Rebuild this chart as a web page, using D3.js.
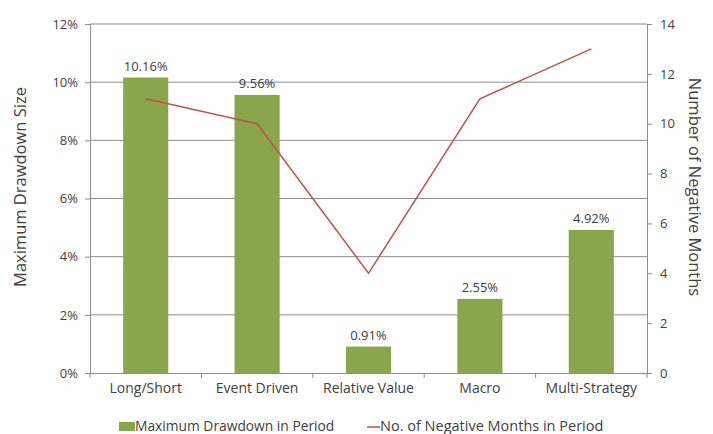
<!DOCTYPE html>
<html>
<head>
<meta charset="utf-8">
<script src="https://cdn.jsdelivr.net/npm/d3@7.9.0/dist/d3.min.js"></script>
<style>
  body { margin: 0; background: #fff; }
  svg text { font-family: "Open Sans", "Lato", sans-serif; fill: #404040; }
</style>
</head>
<body>
<svg id="chart" width="713" height="434"></svg>
<script>
const categories = ['Long/Short', 'Event Driven', 'Relative Value', 'Macro', 'Multi-Strategy'];
const drawdown = [0.1016, 0.0956, 0.0091, 0.0255, 0.0492];
const negMonths = [11, 10, 4, 11, 13];
const leftTicks = [0, 0.02, 0.04, 0.06, 0.08, 0.10, 0.12];
const rightTicks = [0, 2, 4, 6, 8, 10, 12, 14];

const margin = { left: 90, right: 66, top: 24, bottom: 61 };
const width = 713, height = 434;
const svg = d3.select('#chart');

let x = d3.scaleBand().domain(categories).range([margin.left, width - margin.right]).padding(0);
let yL = d3.scaleLinear().domain([0, 0.12]).range([height - margin.bottom, margin.top]);
let yR = d3.scaleLinear().domain([0, 14]).range([height - margin.bottom, margin.top]);

// gridlines
svg.append('g')
  .selectAll('line')
  .data(leftTicks.slice(1))
  .join('line')
  .attr('x1', margin.left).attr('x2', width - margin.right)
  .attr('y1', (d) => yL(d)).attr('y2', (d) => yL(d))
  .attr('stroke', '#8c8c8c').attr('stroke-width', 1);

// left axis
let leftAxis = svg.append('g')
  .attr('transform', `translate(${margin.left},0)`)
  .call(d3.axisLeft(yL).tickValues(leftTicks).tickFormat(d3.format('.0%')).tickSize(5).tickPadding(7));

// right axis
let rightAxis = svg.append('g')
  .attr('transform', `translate(${width - margin.right},0)`)
  .call(d3.axisRight(yR).tickValues(rightTicks).tickSize(5).tickPadding(8));

// x axis
let xAxis = svg.append('g')
  .attr('transform', `translate(0,${height - margin.bottom})`)
  .call(d3.axisBottom(x).tickSize(0).tickPadding(10));

// category boundary ticks
let bounds = categories.map((c) => x(c)).concat([x(categories[4]) + x.bandwidth()]);
svg.append('g')
  .selectAll('line')
  .data(bounds)
  .join('line')
  .attr('x1', (d) => d).attr('x2', (d) => d)
  .attr('y1', height - margin.bottom).attr('y2', height - margin.bottom + 5)
  .attr('stroke', '#8c8c8c');

[leftAxis, rightAxis, xAxis].forEach((g) => {
  g.select('.domain').attr('stroke', '#8c8c8c');
  g.selectAll('.tick line').attr('stroke', '#8c8c8c');
  g.selectAll('text').attr('font-size', 13).attr('fill', '#404040');
});
xAxis.selectAll('text').attr('font-size', 14);

// bars
let barW = x.bandwidth() * 0.405;
svg.append('g')
  .selectAll('rect')
  .data(drawdown)
  .join('rect')
  .attr('x', (d, i) => x(categories[i]) + (x.bandwidth() - barW) / 2)
  .attr('y', (d) => yL(d))
  .attr('width', barW)
  .attr('height', (d) => yL(0) - yL(d))
  .attr('fill', '#8aa64c');

// value labels
svg.append('g')
  .selectAll('text')
  .data(drawdown)
  .join('text')
  .attr('x', (d, i) => x(categories[i]) + x.bandwidth() / 2)
  .attr('y', (d) => yL(d) - 7)
  .attr('text-anchor', 'middle')
  .attr('font-size', 13)
  .text((d) => d3.format('.2%')(d));

// line
let line = d3.line()
  .x((d, i) => x(categories[i]) + x.bandwidth() / 2)
  .y((d) => yR(d));
svg.append('path')
  .datum(negMonths)
  .attr('d', line)
  .attr('fill', 'none')
  .attr('stroke', '#c0504d')
  .attr('stroke-width', 1.5);

// axis titles
svg.append('text')
  .attr('transform', `translate(26,187) rotate(-90)`)
  .attr('text-anchor', 'middle')
  .attr('font-size', 16.5)
  .text('Maximum Drawdown Size');

svg.append('text')
  .attr('transform', `translate(689,187) rotate(90)`)
  .attr('text-anchor', 'middle')
  .attr('font-size', 16.5)
  .text('Number of Negative Months');

// legend
let legend = svg.append('g').attr('transform', 'translate(0,431)');
legend.append('rect')
  .attr('x', 119).attr('y', -9).attr('width', 16).attr('height', 9)
  .attr('fill', '#8aa64c');
legend.append('text')
  .attr('x', 135).attr('y', 0).attr('font-size', 13.8)
  .text('Maximum Drawdown in Period');
legend.append('line')
  .attr('x1', 367).attr('x2', 380).attr('y1', -4).attr('y2', -4)
  .attr('stroke', '#c0504d').attr('stroke-width', 1.5);
legend.append('text')
  .attr('x', 380).attr('y', 0).attr('font-size', 14.5)
  .text('No. of Negative Months in Period');
</script>
</body>
</html>
